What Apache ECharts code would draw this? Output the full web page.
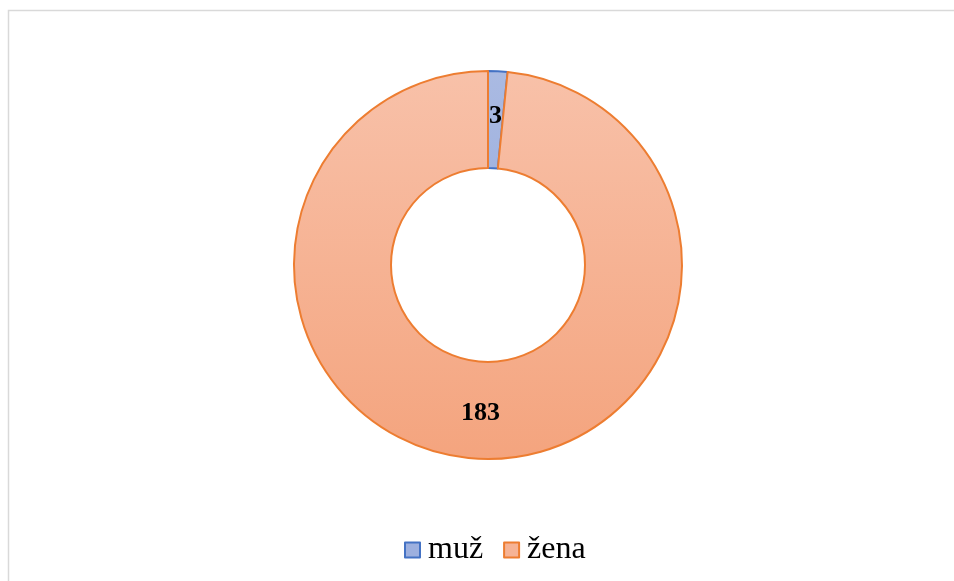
<!DOCTYPE html>
<html>
<head>
<meta charset="utf-8">
<script src="https://cdn.jsdelivr.net/npm/echarts@6/dist/echarts.min.js"></script>
<style>
    html, body { margin: 0; padding: 0; background: #fff; }
    #chart { width: 954px; height: 581px; }
</style>
</head>
<body>
<div id="chart"></div>
<script>
    // data
    const categories = ['muž', 'žena']
    const values = [3, 183]
    const topColors = ['#AABAE2', '#F8C1A9']
    const bottomColors = ['#8CA3DA', '#F4A47E']
    const borderColors = ['#4472C4', '#ED7D31']

    const myChart = echarts.init(document.getElementById('chart'))

    const pieData = categories.map((name, i) => ({
        name: name,
        value: values[i],
        itemStyle: {
            // gradient over the whole ring, like the original
            color: new echarts.graphic.LinearGradient(0, 71, 0, 459, [
                {offset: 0, color: topColors[i]},
                {offset: 1, color: bottomColors[i]}
            ], true),
            borderColor: borderColors[i],
            borderWidth: 2
        }
    }))

    const legendData = categories.map((name, i) => ({
        name: name,
        itemStyle: {
            color: i === 0 ? '#9DB0DF' : '#F6B395',
            borderColor: borderColors[i],
            borderWidth: 2
        }
    }))

    const option = {
        animation: false,
        graphic: [{
            type: 'rect',
            shape: {x: 8.5, y: 10.5, width: 1000, height: 700},
            style: {fill: 'none', stroke: '#D9D9D9', lineWidth: 1.5},
            silent: true
        }],
        legend: {
            data: legendData,
            left: 399,
            top: 529,
            icon: 'rect',
            itemWidth: 15,
            itemHeight: 15,
            itemGap: 20,
            textStyle: {
                fontFamily: 'Liberation Serif',
                fontSize: 32,
                padding: [0, 0, 0, 3],
                color: '#000'
            }
        },
        series: [{
            type: 'pie',
            center: [488, 265],
            radius: [97, 194],
            startAngle: 90,
            clockwise: true,
            data: pieData,
            label: {
                show: true,
                position: 'inside',
                formatter: '{c}',
                fontFamily: 'Liberation Serif',
                fontWeight: 'bold',
                fontSize: 26,
                color: '#000'
            },
            labelLine: {show: false},
            emphasis: {disabled: true}
        }]
    }
    myChart.setOption(option)
</script>
</body>
</html>
